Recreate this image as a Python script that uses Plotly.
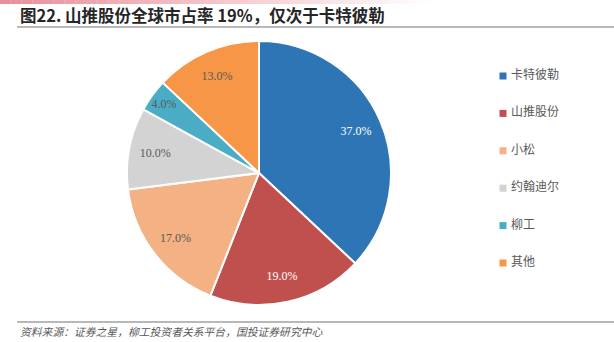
import plotly.graph_objects as go

# ---- data ----
companies = ["卡特彼勒", "山推股份", "小松", "约翰迪尔", "柳工", "其他"]
shares = [37.0, 19.0, 17.0, 10.0, 4.0, 13.0]
colors = ["#2E75B6", "#C0504D", "#F4B183", "#D3D3D3", "#4BACC6", "#F79646"]
text_colors = ["#FFFFFF", "#FFFFFF", "#595959", "#595959", "#595959", "#595959"]

title_text = "图22. 山推股份全球市占率 19%，仅次于卡特彼勒"
source_text = "资料来源：证券之星，柳工投资者关系平台，国投证券研究中心"

W, H = 614, 342
CJK = "Noto Sans CJK SC"
NUM = "Liberation Serif"

fig = go.Figure()

cx, cy, r = 259, 173, 132
dom = dict(x=[(cx - r) / W, (cx + r) / W], y=[1 - (cy + r) / H, 1 - (cy - r) / H])

# pie (fills)
fig.add_trace(go.Pie(
    labels=companies,
    values=shares,
    sort=False,
    direction="clockwise",
    rotation=0,
    marker=dict(colors=colors, line=dict(color="#FFFFFF", width=2)),
    textinfo="none",
    domain=dom,
    showlegend=False,
    hoverinfo="label+percent",
))

# transparent ring carrying the data labels further out
fig.add_trace(go.Pie(
    labels=companies,
    values=shares,
    sort=False,
    direction="clockwise",
    rotation=0,
    hole=0.6,
    marker=dict(colors=["rgba(0,0,0,0)"] * len(companies), line=dict(width=0)),
    texttemplate="%{value:.1f}%",
    textposition="inside",
    insidetextorientation="horizontal",
    textfont=dict(family=NUM, size=12, color=text_colors),
    domain=dom,
    showlegend=False,
    hoverinfo="skip",
))

# legend as a scatter on hidden axes
idx = list(range(len(companies)))
fig.add_trace(go.Scatter(
    x=[0] * len(companies),
    y=idx,
    mode="markers+text",
    marker=dict(symbol="square", size=7, color=colors),
    text=[" " + c for c in companies],
    textposition="middle right",
    textfont=dict(family=CJK, size=12, color="#595959"),
    showlegend=False,
    hoverinfo="skip",
    cliponaxis=False,
))

fig.update_xaxes(visible=False, range=[0, 1], domain=[503 / W, 0.99], fixedrange=True)
fig.update_yaxes(visible=False, range=[len(companies) - 0.5, -0.5],
                 domain=[1 - 281.7 / H, 1 - 57.3 / H], fixedrange=True)

shapes = []
# top gradient bar
n = 40
bar_end = 430
for i in range(n):
    x0 = bar_end * i / n
    x1 = bar_end * (i + 1) / n
    shapes.append(dict(type="rect", xref="paper", yref="paper",
                       x0=x0 / W, x1=x1 / W, y0=1 - 4 / H, y1=1,
                       fillcolor="#E27580", opacity=max(0.0, 0.8 * (1 - i / n)),
                       line=dict(width=0), layer="above"))
# title underline
shapes.append(dict(type="line", xref="paper", yref="paper",
                   x0=17 / W, x1=1, y0=1 - 27 / H, y1=1 - 27 / H,
                   line=dict(color="#A0A0A0", width=1.5)))
# footer line
shapes.append(dict(type="line", xref="paper", yref="paper",
                   x0=17 / W, x1=1, y0=1 - 322 / H, y1=1 - 322 / H,
                   line=dict(color="#A0A0A0", width=1.5)))

annotations = [
    dict(text="<b>" + title_text + "</b>", xref="paper", yref="paper",
         x=18 / W, y=1 - 15 / H, xanchor="left", yanchor="middle", showarrow=False,
         font=dict(family=CJK, size=16.5, color="#262626")),
    dict(text="<i>" + source_text + "</i>", xref="paper", yref="paper",
         x=18 / W, y=1 - 331 / H, xanchor="left", yanchor="middle", showarrow=False,
         font=dict(family=CJK, size=10.8, color="#595959")),
]

fig.update_layout(
    width=W, height=H,
    margin=dict(l=0, r=0, t=0, b=0),
    paper_bgcolor="#FFFFFF",
    plot_bgcolor="#FFFFFF",
    shapes=shapes,
    annotations=annotations,
    showlegend=False,
    uniformtext=dict(minsize=12, mode="show"),
)

fig.write_html("out.html")
